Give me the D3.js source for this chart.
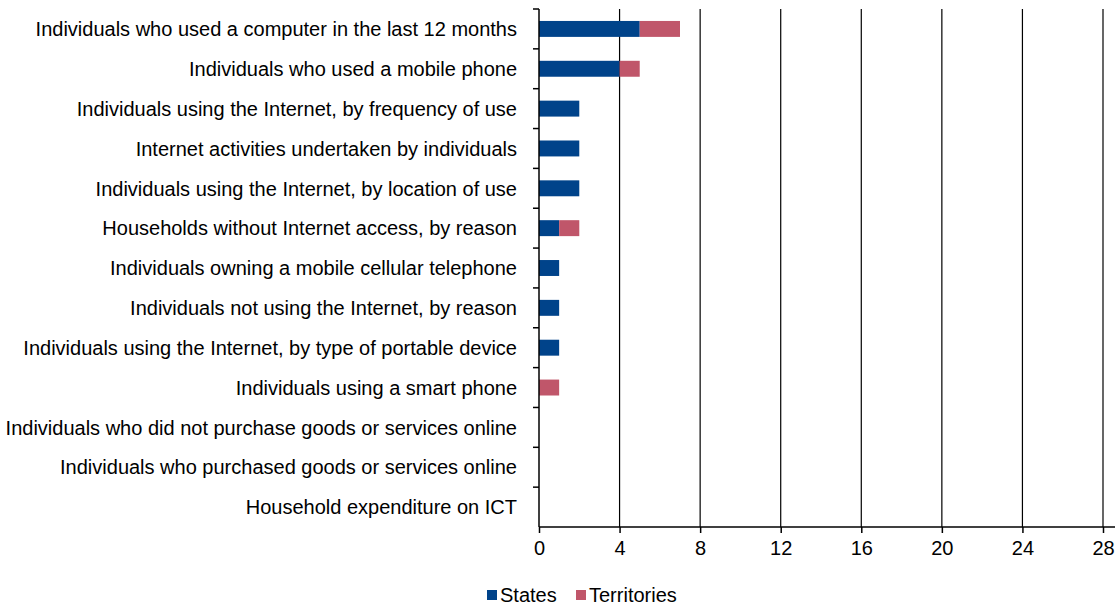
<!DOCTYPE html>
<html>
<head>
<meta charset="utf-8">
<script src="https://cdn.jsdelivr.net/npm/d3@7"></script>
<style>
  html, body { margin: 0; padding: 0; background: #fff; }
  svg { display: block; font-family: "Liberation Sans", Arial, sans-serif; }
</style>
</head>
<body>
<svg id="chart" width="1115" height="607"></svg>
<script>
// Number of ICT statistics reported, by topic
const categories = [
  "Individuals who used a computer in the last 12 months",
  "Individuals who used a mobile phone",
  "Individuals using the Internet, by frequency of use",
  "Internet activities undertaken by individuals",
  "Individuals using the Internet, by location of use",
  "Households without Internet access, by reason",
  "Individuals owning a mobile cellular telephone",
  "Individuals not using the Internet, by reason",
  "Individuals using the Internet, by type of portable device",
  "Individuals using a smart phone",
  "Individuals who did not purchase goods or services online",
  "Individuals who purchased goods or services online",
  "Household expenditure on ICT"
];
const states      = [5, 4, 2, 2, 2, 1, 1, 1, 1, 0, 0, 0, 0];
const territories = [2, 1, 0, 0, 0, 1, 0, 0, 0, 1, 0, 0, 0];
const seriesNames = ["States", "Territories"];
const seriesColors = ["#00438a", "#c0566a"];
const xTicks = [0, 4, 8, 12, 16, 20, 24, 28];

const svg = d3.select("#chart");
const W = 1115;
const plotLeft = 539, plotRight = 1103, plotTop = 9, plotBottom = 527;
const fontSize = "20px";

const x = d3.scaleLinear().domain([0, 28]).range([plotLeft, plotRight]);
const y = d3.scaleBand().domain(categories).range([plotTop, plotBottom]).paddingInner(0.6).paddingOuter(0.3);
const band = d3.scaleBand().domain(categories).range([plotTop, plotBottom]);

const rows = categories.map((c, i) => ({ cat: c, values: [states[i], territories[i]] }));
const stacked = d3.stack().keys([0, 1]).value((d, k) => d.values[k])(rows);

// vertical gridlines
svg.append("g")
  .selectAll("line")
  .data(xTicks.filter(t => t > 0))
  .join("line")
  .attr("x1", d => x(d)).attr("x2", d => x(d))
  .attr("y1", plotTop).attr("y2", plotBottom)
  .attr("stroke", "#000").attr("stroke-width", 1.2);

// stacked bars
svg.append("g")
  .selectAll("g")
  .data(stacked)
  .join("g")
  .attr("fill", (d, i) => seriesColors[i])
  .selectAll("rect")
  .data(d => d)
  .join("rect")
  .attr("x", d => x(d[0]))
  .attr("y", d => y(d.data.cat))
  .attr("width", d => x(d[1]) - x(d[0]))
  .attr("height", y.bandwidth());

// x axis
const xAxis = svg.append("g")
  .attr("transform", `translate(0,${plotBottom})`)
  .call(d3.axisBottom(x).tickValues(xTicks).tickSize(6).tickSizeOuter(0).tickPadding(8));
xAxis.select(".domain").remove();
xAxis.append("line").attr("x1", plotLeft).attr("x2", W).attr("y1", 0).attr("y2", 0)
  .attr("stroke", "#000").attr("stroke-width", 1.5);
xAxis.selectAll(".tick line").attr("stroke", "#000").attr("stroke-width", 1.5);
xAxis.selectAll(".tick text").attr("font-size", fontSize).attr("fill", "#000")
  .attr("font-family", "Liberation Sans, Arial, sans-serif");

// y axis: boundary ticks between categories
const yAxisG = svg.append("g");
yAxisG.append("line")
  .attr("x1", plotLeft).attr("x2", plotLeft)
  .attr("y1", plotTop).attr("y2", plotBottom)
  .attr("stroke", "#000").attr("stroke-width", 1.5);
yAxisG.selectAll("line.b")
  .data(categories)
  .join("line")
  .attr("class", "b")
  .attr("x1", plotLeft - 6).attr("x2", plotLeft)
  .attr("y1", d => band(d)).attr("y2", d => band(d))
  .attr("stroke", "#000").attr("stroke-width", 1.5);
yAxisG.selectAll("text")
  .data(categories)
  .join("text")
  .attr("x", 517)
  .attr("y", d => band(d) + band.bandwidth() / 2)
  .attr("dy", "0.36em")
  .attr("text-anchor", "end")
  .attr("font-size", fontSize)
  .attr("fill", "#000")
  .text(d => d);

// legend
const legend = svg.append("g").attr("transform", "translate(487,595)");
const legendX = [0, 89];
seriesNames.forEach((name, i) => {
  const g = legend.append("g").attr("transform", `translate(${legendX[i]},0)`);
  g.append("rect").attr("x", 0).attr("y", -5).attr("width", 10).attr("height", 10).attr("fill", seriesColors[i]);
  g.append("text").attr("x", 13).attr("y", 0).attr("dy", "0.36em")
    .attr("font-size", fontSize).attr("fill", "#000").text(name);
});
</script>
</body>
</html>
